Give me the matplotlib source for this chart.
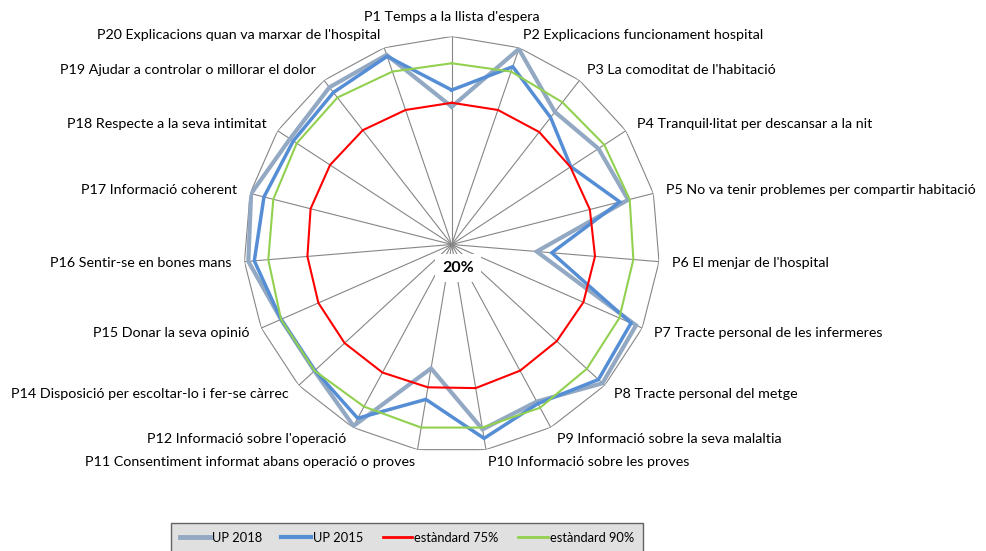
import numpy as np
import matplotlib
matplotlib.use("Agg")
from matplotlib import pyplot as plt

plt.rcParams["font.family"] = ["Lato", "DejaVu Sans"]

questions = [
    "P1 Temps a la llista d'espera",
    "P2 Explicacions funcionament hospital",
    "P3 La comoditat de l'habitació",
    "P4 Tranquil·litat per descansar a la nit",
    "P5 No va tenir problemes per compartir habitació",
    "P6 El menjar de l'hospital",
    "P7 Tracte personal de les infermeres",
    "P8 Tracte personal del metge",
    "P9 Informació sobre la seva malaltia",
    "P10 Informació sobre les proves",
    "P11 Consentiment informat abans operació o proves",
    "P12 Informació sobre l'operació",
    "P14 Disposició per escoltar-lo i fer-se càrrec",
    "P15 Donar la seva opinió",
    "P16 Sentir-se en bones mans",
    "P17 Informació coherent",
    "P18 Respecte a la seva intimitat",
    "P19 Ajudar a controlar o millorar el dolor",
    "P20 Explicacions quan va marxar de l'hospital",
]
up2018 = [73.0, 99.5, 84.6, 87.4, 90.0, 52.8, 97.4, 98.8, 88.7, 92.1,
          68.3, 99.4, 91.8, 91.7, 98.5, 99.6, 94.3, 96.6, 97.1]
up2015 = [79.4, 92.3, 81.9, 74.7, 86.7, 58.6, 95.3, 96.7, 89.6, 95.6,
          80.4, 96.0, 91.5, 91.7, 96.2, 94.5, 92.8, 94.1, 96.5]
std75 = [74.5, 74.7, 74.8, 74.5, 74.8, 75.3, 75.3, 74.9, 75.2, 76.0,
         75.7, 76.0, 76.0, 76.0, 75.7, 76.0, 75.9, 75.7, 74.7]
std90 = [89.7, 90.3, 89.3, 90.1, 90.6, 90.1, 90.4, 90.6, 91.4, 91.4,
         91.4, 90.9, 91.7, 91.7, 90.8, 90.8, 91.2, 91.6, 90.3]
rmin, rmax = 20, 100

n = len(questions)
theta = np.linspace(0, 2 * np.pi, n, endpoint=False)
th = np.append(theta, theta[0])

fig = plt.figure(figsize=(9.86, 5.51), dpi=100)
ax = fig.add_axes([0.2472, 0.1788, 0.4219, 0.755], projection="polar")
ax.set_theta_zero_location("N")
ax.set_theta_direction(-1)
ax.set_ylim(rmin, rmax)
ax.grid(False)
ax.set_xticks([])
ax.set_yticks([])
ax.spines["polar"].set_visible(False)

# polygon frame + spokes
grid_c = "#868686"
for t in theta:
    ax.plot([t, t], [rmin, rmax], color=grid_c, lw=0.8, zorder=1)
ax.plot(th, [rmax] * (n + 1), color=grid_c, lw=0.8, zorder=1)

series = [
    ("UP 2018", up2018, "#93A9C3", 3.0),
    ("UP 2015", up2015, "#558ED5", 2.5),
    ("estàndard 75%", std75, "#FF0000", 1.5),
    ("estàndard 90%", std90, "#92D050", 1.5),
]
for i, (name, vals, col, lw) in enumerate(series):
    ax.plot(th, list(vals) + [vals[0]], color=col, lw=lw, label=name,
            zorder=3 + i, solid_joinstyle="miter")

# labels round the frame
off = 5
fs = 10.3
for k, (t, q) in enumerate(zip(theta, questions)):
    if k == 0:
        ax.text(t, rmax + off, q, ha="center", va="bottom", fontsize=fs)
    elif k < 10:
        ax.text(t, rmax + off, q, ha="left", va="center", fontsize=fs)
    else:
        ax.text(t, rmax + off, q, ha="right", va="center", fontsize=fs)

fig.text(458 / 986, 1 - 268 / 551, "20%", ha="center", va="center",
         fontsize=11.5, fontweight="bold",
         bbox=dict(facecolor="white", edgecolor="none", pad=5), zorder=10)

leg = fig.legend(loc="center", bbox_to_anchor=(0.4128, 0.024), ncol=4,
                 fontsize=9.3, frameon=True, fancybox=False,
                 handlelength=2.3, columnspacing=1.5, handletextpad=0.15,
                 borderpad=0.7, borderaxespad=0)
leg.get_frame().set_facecolor("#D9D9D9")
leg.get_frame().set_edgecolor("#404040")
leg.get_frame().set_linewidth(1.0)
for line in leg.get_lines():
    line.set_linewidth(line.get_linewidth() + 0.5)

fig.savefig("out.png", dpi=100)
